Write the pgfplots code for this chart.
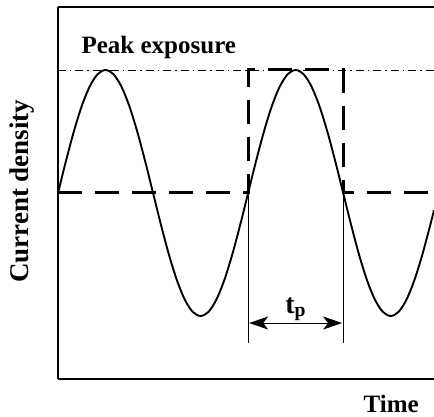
\documentclass[border=0pt]{standalone}
\usepackage{fontspec}
\setmainfont{Liberation Serif}
\usepackage{pgfplots}
\pgfplotsset{compat=1.18}
\usetikzlibrary{arrows.meta}
\begin{document}
\begin{tikzpicture}
\useasboundingbox (-58pt,-38pt) rectangle (376pt,379pt);
\begin{axis}[
  at={(0,0)}, anchor=south west,
  scale only axis, width=376pt, height=372pt,
  xmin=0, xmax=712, ymin=-1.512, ymax=1.512,
  axis x line=box, axis y line=left,
  axis line style={-, line width=1.5pt},
  xtick=\empty, ytick=\empty,
  clip=false,
  xlabel={Time}, ylabel={Current density},
  xlabel style={at={(axis description cs:0.886,0)}, anchor=base, yshift=-34pt, font=\fontsize{25}{28}\selectfont\bfseries},
  ylabel style={at={(axis description cs:-0.096,0.505)}, anchor=center, font=\fontsize{27}{30}\selectfont\bfseries},
]
% peak exposure dash-dot line
\addplot[black, line width=0.9pt, dash pattern=on 8pt off 4pt on 1.5pt off 4pt] coordinates {(0,1) (712,1)};
% dashed square pulse
\addplot[black, line width=3pt, dash pattern=on 24pt off 13pt] coordinates {(0,0) (360,0) (360,1) (540,1) (540,0) (712,0)};
% sine-shaped current
\addplot[black, line width=1.9pt, smooth] coordinates {
(0,0) (15,0.2588) (30,0.5) (45,0.7071) (60,0.8660) (75,0.9659) (90,1)
(105,0.9659) (120,0.8660) (135,0.7071) (150,0.5) (165,0.2588) (180,0)
(195,-0.2588) (210,-0.5) (225,-0.7071) (240,-0.8660) (255,-0.9659) (270,-1)
(285,-0.9659) (300,-0.8660) (315,-0.7071) (330,-0.5) (345,-0.2588) (360,0)
(375,0.2588) (390,0.5) (405,0.7071) (420,0.8660) (435,0.9659) (450,1)
(465,0.9659) (480,0.8660) (495,0.7071) (510,0.5) (525,0.2588) (540,0)
(555,-0.2588) (570,-0.5) (585,-0.7071) (600,-0.8660) (615,-0.9659) (630,-1)
(645,-0.9659) (660,-0.8660) (675,-0.7071) (690,-0.5) (705,-0.2588) (712,-0.1392)
};
% vertical marker lines
\addplot[black, line width=1pt] coordinates {(360,0) (360,-1.22)};
\addplot[black, line width=1pt] coordinates {(540,0) (540,-1.22)};
% t_p arrow
\addplot[black, line width=1pt, {Stealth[length=19pt,width=13pt,inset=5pt]}-{Stealth[length=19pt,width=13pt,inset=5pt]}] coordinates {(362,-1.057) (538,-1.057)};
\node[anchor=base, font=\fontsize{28}{30}\selectfont\bfseries] at (axis cs:450,-0.976) {t\textsubscript{p}};
\node[anchor=base west, font=\fontsize{25}{28}\selectfont\bfseries] at (axis cs:38,1.138) {Peak exposure};
\end{axis}
\end{tikzpicture}
\end{document}
